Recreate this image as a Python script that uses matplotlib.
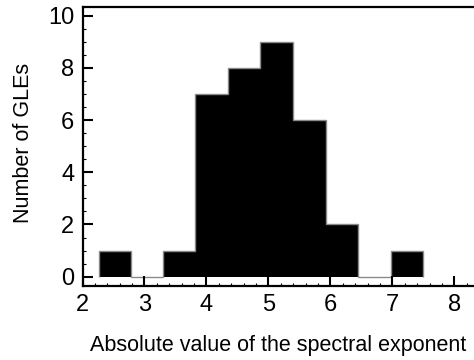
import matplotlib
matplotlib.use("Agg")
import matplotlib.pyplot as plt
from matplotlib.ticker import MultipleLocator

bin_edges = [2.27, 2.79, 3.30, 3.82, 4.35, 4.87, 5.40, 5.93, 6.45, 6.97, 7.50]
counts = [1, 0, 1, 7, 8, 9, 6, 2, 0, 1]

plt.rcParams['font.family'] = ['Liberation Sans', 'DejaVu Sans']

fig = plt.figure(figsize=(4.74, 3.6), dpi=100)
ax = fig.add_axes([82.5/474, 74.3/360, 1 - 82.5/474, (285.7-6.7)/360])

ax.stairs(counts, bin_edges, fill=True, color='black', baseline=0)
ax.stairs(counts, bin_edges, fill=False, color='#8a8a8a', linewidth=1.0, baseline=0)

ax.set_xlim(2, 8.315)
ax.set_ylim(-0.345, 10.34)
ax.xaxis.set_major_locator(MultipleLocator(1))
ax.xaxis.set_minor_locator(MultipleLocator(0.2))
ax.yaxis.set_major_locator(MultipleLocator(2))
ax.yaxis.set_minor_locator(MultipleLocator(0.5))

for s in ['left', 'bottom', 'top']:
    ax.spines[s].set_linewidth(1.6)
ax.spines['right'].set_visible(False)

ax.tick_params(which='major', direction='in', length=7, width=1.5, labelsize=17,
               top=False, right=False)
ax.tick_params(which='minor', direction='in', length=2.5, width=0.8,
               top=False, right=False)
ax.tick_params(axis='x', which='major', pad=6)
ax.tick_params(axis='y', which='major', pad=6)

ax.set_xlabel('Absolute value of the spectral exponent', fontsize=15.5, labelpad=14)
ax.set_ylabel('Number of GLEs', fontsize=15.5)
ax.yaxis.set_label_coords(-0.125, 0.51)

fig.savefig('out.png', dpi=100)
